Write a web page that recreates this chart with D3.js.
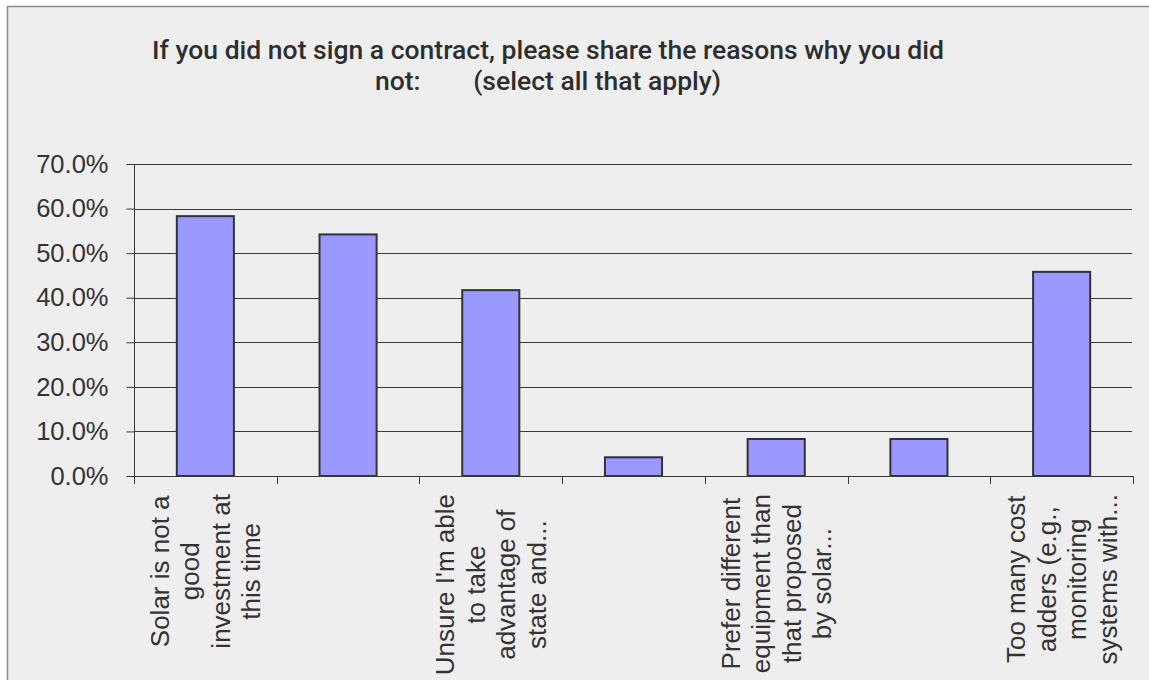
<!DOCTYPE html>
<html>
<head>
<meta charset="utf-8">
<script src="https://cdn.jsdelivr.net/npm/d3@7"></script>
<style>
  html, body { margin: 0; padding: 0; background: #ffffff; }
  svg { display: block; }
</style>
</head>
<body>
<svg id="chart" width="1149" height="680"></svg>
<script>
// Survey responses: share of respondents choosing each reason
const categories = [
  ["Solar is not a", "good", "investment at", "this time"],
  [],
  ["Unsure I'm able", "to take", "advantage of", "state and..."],
  [],
  ["Prefer different", "equipment than", "that proposed", "by solar..."],
  [],
  ["Too many cost", "adders (e.g.,", "monitoring", "systems with..."]
];
const values = [58.3, 54.2, 41.7, 4.2, 8.3, 8.3, 45.8];
const yTicks = [0, 10, 20, 30, 40, 50, 60, 70];
const titleLines = [
  "If you did not sign a contract, please share the reasons why you did",
  "not:        (select all that apply)"
];

const svg = d3.select("#chart");
const W = 1149, H = 680;

// chart area panel
svg.append("rect")
  .attr("x", 7.5).attr("y", 6.5)
  .attr("width", W + 10).attr("height", H + 10)
  .attr("fill", "#eeeeee")
  .attr("stroke", "#8a8a8a")
  .attr("stroke-width", 1.5);

const plot = { left: 134, right: 1133, top: 164, bottom: 476 };

const x = d3.scaleBand()
  .domain(d3.range(values.length))
  .range([plot.left, plot.right])
  .paddingInner(0.6)
  .paddingOuter(0.3);

const bandStep = (plot.right - plot.left) / values.length;

const y = d3.scaleLinear()
  .domain([0, 70])
  .range([plot.bottom, plot.top]);

// title
const title = svg.append("text")
  .attr("text-anchor", "middle")
  .attr("font-family", "Roboto, 'Open Sans', sans-serif")
  .attr("font-weight", 500)
  .attr("font-size", 26.5)
  .attr("fill", "#2e2e2e")
  .style("white-space", "pre");
titleLines.forEach((t, i) => {
  title.append("tspan")
    .attr("x", 548)
    .attr("y", 59 + i * 31)
    .text(t);
});

// gridlines
svg.append("g")
  .selectAll("line")
  .data(yTicks)
  .join("line")
  .attr("x1", plot.left).attr("x2", plot.right - 1)
  .attr("y1", d => Math.round(y(d)) + 0.5)
  .attr("y2", d => Math.round(y(d)) + 0.5)
  .attr("stroke", "#3a3a3a")
  .attr("stroke-width", 1);

// y axis
const yAxis = svg.append("g")
  .attr("transform", `translate(${plot.left + 0.5},0)`)
  .call(d3.axisLeft(y)
    .tickValues(yTicks)
    .tickSize(8)
    .tickPadding(18)
    .tickFormat(d => d3.format(".1f")(d) + "%"));
yAxis.select(".domain").attr("stroke", "#3a3a3a").attr("d", `M0,${plot.top}V${plot.bottom}`);
yAxis.selectAll(".tick line").attr("stroke", "#3a3a3a");
yAxis.selectAll(".tick text")
  .attr("font-family", "'Liberation Sans', Arial, sans-serif")
  .attr("font-size", 25.5)
  .attr("fill", "#333333");

// bars
svg.append("g")
  .selectAll("rect")
  .data(values)
  .join("rect")
  .attr("x", (d, i) => x(i))
  .attr("y", d => y(d))
  .attr("width", x.bandwidth())
  .attr("height", d => plot.bottom - y(d))
  .attr("fill", "#9999ff")
  .attr("stroke", "#333333")
  .attr("stroke-width", 2);

// x axis line and category boundary ticks
const xAxis = svg.append("g");
xAxis.append("line")
  .attr("x1", plot.left).attr("x2", plot.right)
  .attr("y1", plot.bottom + 0.5).attr("y2", plot.bottom + 0.5)
  .attr("stroke", "#3a3a3a");
xAxis.selectAll("line.tick")
  .data(d3.range(values.length + 1))
  .join("line")
  .attr("class", "tick")
  .attr("x1", i => Math.round(plot.left + i * bandStep) + 0.5)
  .attr("x2", i => Math.round(plot.left + i * bandStep) + 0.5)
  .attr("y1", plot.bottom)
  .attr("y2", plot.bottom + 8)
  .attr("stroke", "#3a3a3a");

// rotated multi-line category labels
const lineGap = 30.5;
const labelTop = 494;
const labels = svg.append("g")
  .attr("font-family", "'Liberation Sans', Arial, sans-serif")
  .attr("font-size", 26)
  .attr("fill", "#333333");
categories.forEach((lines, i) => {
  if (!lines.length) return;
  const cx = x(i) + x.bandwidth() / 2;
  const g = labels.append("g");
  const texts = lines.map((t, k) => g.append("text")
    .attr("text-anchor", "middle")
    .attr("dy", "0.35em")
    .text(t));
  const maxLen = d3.max(texts, t => t.node().getComputedTextLength());
  const cy = labelTop + maxLen / 2;
  texts.forEach((t, k) => {
    const lx = cx + (k - (lines.length - 1) / 2) * lineGap;
    t.attr("transform", `translate(${lx},${cy}) rotate(-90)`);
  });
});
</script>
</body>
</html>
